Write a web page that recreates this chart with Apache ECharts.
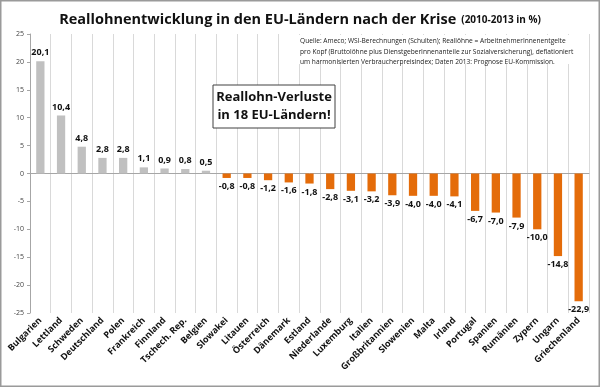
<!DOCTYPE html>
<html><head><meta charset="utf-8">
<script src="https://cdn.jsdelivr.net/npm/echarts@6/dist/echarts.min.js"></script>
<style>html,body{margin:0;padding:0;background:#fff}#c{width:600px;height:387px}</style>
</head><body><div id="c"></div>
<script>
const categories = ["Bulgarien","Lettland","Schweden","Deutschland","Polen","Frankreich","Finnland","Tschech. Rep.","Belgien","Slowakei","Litauen","Österreich","Dänemark","Estland","Niederlande","Luxemburg","Italien","Großbritannien","Slowenien","Malta","Irland","Portugal","Spanien","Rumänien","Zypern","Ungarn","Griechenland"];
const values = [20.1,10.4,4.8,2.8,2.8,1.1,0.9,0.8,0.5,-0.8,-0.8,-1.2,-1.6,-1.8,-2.8,-3.1,-3.2,-3.9,-4.0,-4.0,-4.1,-6.7,-7.0,-7.9,-10.0,-14.8,-22.9];
const yTicks = [-25,-20,-15,-10,-5,0,5,10,15,20,25];
const sourceLines = [
 "Quelle: Ameco; WSI-Berechnungen (Schulten); Reallöhne = ArbeitnehmerInnenentgelte",
 "pro Kopf (Bruttolöhne plus DienstgeberInnenanteile zur Sozialversicherung), deflationiert",
 "um harmonisierten Verbraucherpreisindex; Daten 2013: Prognose EU-Kommission."
];
const boxLines = ["Reallohn-Verluste","in 18 EU-Ländern!"];

const chart = echarts.init(document.getElementById('c'));
const FONT = '"Open Sans", sans-serif';
chart.setOption({
  animation:false,
  backgroundColor:'#fff',
  title:{
    text:'{a|Reallohnentwicklung in den EU-Ländern nach der Krise} {b|(2010-2013 in %)}',
    left:'center', top:6,
    textStyle:{rich:{
      a:{fontFamily:FONT,fontWeight:'bold',fontSize:14.5,color:'#111'},
      b:{fontFamily:FONT,fontWeight:'bold',fontSize:10,color:'#111'}
    }}
  },
  grid:{left:30,right:11,top:34,bottom:74},
  xAxis:[{
    type:'category', data:categories, position:'bottom',
    axisLine:{show:false,onZero:false}, axisTick:{show:false},
    axisLabel:{rotate:45,interval:0,fontFamily:FONT,fontWeight:'bold',fontSize:9,color:'#111',margin:6},
    splitLine:{show:true,lineStyle:{color:'#d9d9d9',width:1}}
  },{
    type:'category', data:categories, position:'bottom',
    axisLine:{show:true,onZero:true,lineStyle:{color:'#a6a6a6',width:1}},
    axisTick:{show:false}, axisLabel:{show:false}, splitLine:{show:false}
  }],
  yAxis:{
    type:'value', min:-25, max:25, interval:5,
    axisLine:{show:true,lineStyle:{color:'#a6a6a6'}},
    axisTick:{show:true,length:3,lineStyle:{color:'#a6a6a6'}},
    axisLabel:{fontFamily:FONT,fontSize:7,color:'#444',margin:6,formatter:v=>String(v)},
    splitLine:{show:false}
  },
  series:[{
    type:'bar', barWidth:'40%',
    data:values.map(v=>({
      value:v,
      itemStyle:{color:v>=0?'#c0c0c0':'#e46c0a'},
      label:{position:v>=0?'top':'bottom'}
    })),
    label:{show:true,distance:4,fontFamily:FONT,fontWeight:'bold',fontSize:9,color:'#111',
      formatter:p=>p.value.toFixed(1).replace('.',',')}
  }],
  graphic:[
    {type:'rect',shape:{x:297,y:35,width:291,height:29},style:{fill:'#fff'},z:10},
    {type:'text',left:300,top:36,z:11,style:{text:sourceLines.join('\n'),fontFamily:FONT,fontSize:6.6,lineHeight:10.5,fill:'#222'}},
    {type:'rect',shape:{x:213,y:85,width:122,height:43},style:{fill:'#fff',stroke:'#404040',lineWidth:1},z:10},
    {type:'text',x:274,y:106.5,z:11,style:{text:boxLines.join('\n'),align:'center',verticalAlign:'middle',fontFamily:FONT,fontWeight:'bold',fontSize:13,lineHeight:18,fill:'#111'}},
    {type:'rect',shape:{x:0.75,y:0.75,width:598.5,height:385.5},style:{fill:null,stroke:'#9a9a9a',lineWidth:1.5},z:20,silent:true}
  ]
});
</script></body></html>
